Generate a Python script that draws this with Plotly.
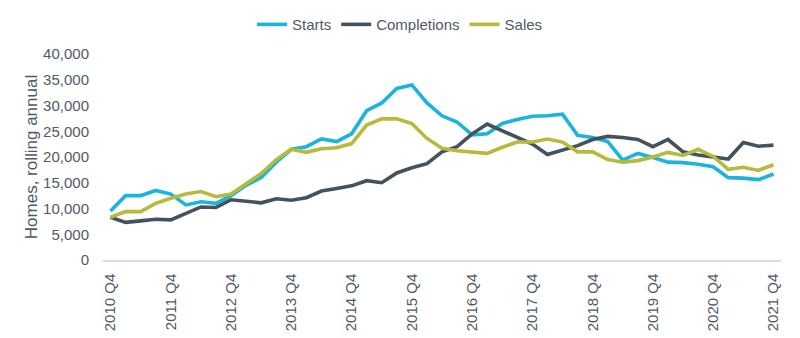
import plotly.graph_objects as go

quarters = [
    "2010 Q4",
    "2011 Q1", "2011 Q2", "2011 Q3", "2011 Q4",
    "2012 Q1", "2012 Q2", "2012 Q3", "2012 Q4",
    "2013 Q1", "2013 Q2", "2013 Q3", "2013 Q4",
    "2014 Q1", "2014 Q2", "2014 Q3", "2014 Q4",
    "2015 Q1", "2015 Q2", "2015 Q3", "2015 Q4",
    "2016 Q1", "2016 Q2", "2016 Q3", "2016 Q4",
    "2017 Q1", "2017 Q2", "2017 Q3", "2017 Q4",
    "2018 Q1", "2018 Q2", "2018 Q3", "2018 Q4",
    "2019 Q1", "2019 Q2", "2019 Q3", "2019 Q4",
    "2020 Q1", "2020 Q2", "2020 Q3", "2020 Q4",
    "2021 Q1", "2021 Q2", "2021 Q3", "2021 Q4",
]

starts = [
    9500,
    12500, 12500, 13500, 12800,
    10700, 11300, 11000, 12500,
    14500, 16000, 19000, 21500,
    22000, 23500, 23000, 24500,
    29000, 30500, 33300, 34000,
    30500, 28000, 26800, 24300,
    24500, 26500, 27300, 27900,
    28000, 28300, 24200, 23800,
    23000, 19400, 20700, 19900,
    19000, 18900, 18600, 18100,
    16000, 15900, 15600, 16700,
]

completions = [
    8300,
    7300, 7600, 7900, 7800,
    9000, 10300, 10200, 11700,
    11400, 11100, 11900, 11600,
    12100, 13400, 13900, 14400,
    15400, 15000, 16900, 17900,
    18700, 21000, 22000, 24500,
    26400, 25100, 23700, 22500,
    20500, 21300, 22200, 23400,
    24000, 23800, 23400, 22000,
    23400, 21000, 20400, 20000,
    19600, 22800, 22100, 22300,
]

sales = [
    8300,
    9400, 9400, 11000, 12000,
    12800, 13300, 12300, 12800,
    14800, 16800, 19500, 21500,
    20900, 21600, 21800, 22600,
    26200, 27400, 27400, 26500,
    23600, 21700, 21200, 21000,
    20700, 21900, 22900, 22900,
    23500, 22900, 21000, 21000,
    19500, 19000, 19300, 20000,
    20900, 20300, 21500, 20100,
    17600, 18000, 17400, 18500,
]

tick_labels = ["2010 Q4", "2011 Q4", "2012 Q4", "2013 Q4", "2014 Q4", "2015 Q4",
               "2016 Q4", "2017 Q4", "2018 Q4", "2019 Q4", "2020 Q4", "2021 Q4"]

y_ticks = [0, 5000, 10000, 15000, 20000, 25000, 30000, 35000, 40000]

series = [
    ("Starts", starts, "#1ab4dc"),
    ("Completions", completions, "#44525e"),
    ("Sales", sales, "#b7ba3d"),
]

FONT = "Liberation Sans, Arial, sans-serif"
TXT = "#4f5a66"

fig = go.Figure()
for name, vals, col in series:
    fig.add_trace(go.Scatter(
        x=quarters, y=vals, name=name, mode="lines",
        line=dict(color=col, width=3.6),
    ))

fig.update_layout(
    width=800, height=338,
    margin=dict(l=103, r=19, t=54, b=78, autoexpand=False),
    paper_bgcolor="white", plot_bgcolor="white",
    font=dict(family=FONT, size=15, color=TXT),
    showlegend=True,
    legend=dict(
        orientation="h", xref="container", yref="container",
        x=0.5, xanchor="center", y=0.976, yanchor="top",
        font=dict(size=15, color=TXT),
        itemwidth=30,
    ),
    xaxis=dict(
        type="category",
        range=[-0.5, len(quarters) - 0.5],
        tickmode="array", tickvals=tick_labels, ticktext=tick_labels,
        tickangle=-90,
        showgrid=False, zeroline=False,
        showline=True, linecolor="#d9dde3", linewidth=1.5,
        ticks="outside", ticklen=6, tickcolor="rgba(0,0,0,0)",
        tickfont=dict(size=15, color=TXT),
        automargin=False,
    ),
    yaxis=dict(
        range=[0, 40000],
        tickmode="array", tickvals=y_ticks,
        tickformat=",d",
        showgrid=False, zeroline=False, showline=False,
        ticks="outside", ticklen=10, tickcolor="rgba(0,0,0,0)",
        tickfont=dict(size=15, color=TXT),
        title=dict(text="Homes, rolling annual", font=dict(size=17, color=TXT), standoff=1),
        automargin=False,
    ),
)

fig.write_html("out.html")
